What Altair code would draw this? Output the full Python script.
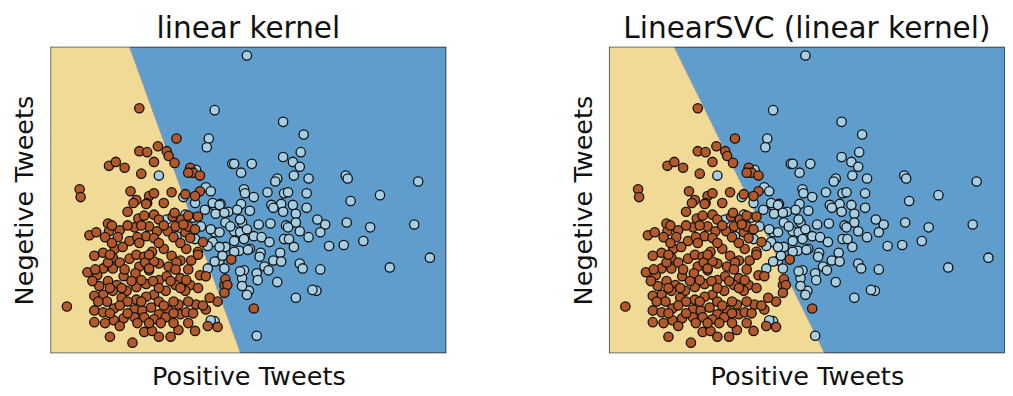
import altair as alt
import pandas as pd

# ---- data (x = positive tweets, y = negative tweets, arbitrary units) ----
blue_x = [200, 167, 237, 258, 161, 159, 255, 237, 185, 205, 194, 247, 254, 248, 263, 231, 229, 197, 198, 221,
          238, 242, 261, 158, 163, 207, 148, 301, 303, 375, 336, 306, 272, 280, 275, 302, 326, 371, 284, 299,
          319, 387, 275, 346, 271, 166, 173, 181, 194, 203, 225, 235, 247, 261, 250, 168, 178, 195, 212, 224,
          240, 250, 167, 187, 193, 207, 215, 223, 242, 254, 263, 238, 165, 178, 192, 203, 214, 234, 248, 172,
          167, 213, 227, 235, 254, 257, 218, 197, 195, 210, 211, 222, 231, 202, 250, 267, 210, 167, 160, 243,
          201, 237, 227, 110, 135, 147, 157, 165, 172, 177, 190, 193, 137, 145, 153, 163, 172, 183, 200, 118,
          128, 147, 160, 172, 187, 197, 175, 187, 177, 193, 195, 200, 163, 187]
blue_y = [304, 248, 236, 223, 219, 210, 205, 200, 193, 193, 184, 195, 190, 181, 178, 178, 175, 167, 163, 164,
          163, 164, 163, 169, 165, 159, 187, 181, 178, 175, 161, 155, 136, 131, 123, 133, 128, 131, 109, 110,
          114, 97, 85, 87, 63, 151, 152, 144, 152, 145, 151, 152, 151, 148, 142, 142, 133, 133, 131, 132,
          130, 133, 123, 124, 123, 119, 118, 113, 128, 124, 118, 116, 113, 108, 104, 106, 102, 102, 108, 94,
          93, 98, 94, 93, 91, 86, 88, 84, 76, 81, 74, 84, 72, 63, 56, 64, 17, 32, 86, 116,
          105, 144, 148, 181, 159, 153, 146, 153, 151, 143, 146, 136, 141, 138, 129, 126, 123, 129, 126, 136,
          119, 116, 109, 108, 114, 116, 99, 103, 86, 83, 68, 59, 33, 193]

brown_x = [90, 128, 90, 98, 109, 118, 120, 126, 105, 59, 66, 75, 92, 29, 30, 81, 100, 105, 123, 142,
           145, 140, 152, 147, 137, 152, 87, 98, 115, 78, 84, 97, 105, 58, 59, 39, 46, 70, 85, 89,
           100, 110, 124, 127, 119, 108, 97, 80, 65, 73, 53, 44, 63, 80, 87, 95, 103, 115, 123, 132,
           132, 120, 110, 100, 90, 86, 74, 63, 53, 37, 47, 49, 67, 77, 87, 97, 110, 118, 127, 117,
           105, 97, 87, 72, 63, 53, 44, 57, 64, 44, 53, 64, 44, 74, 85, 93, 102, 110, 120, 130,
           132, 85, 95, 105, 117, 130, 95, 103, 83, 16, 147, 170, 177, 184, 178, 180, 177, 170, 162, 207,
           148, 142, 152, 138, 137, 143, 155, 150, 158, 137, 138, 158, 150, 133, 140, 147, 126,
           62, 78, 92, 115, 135, 55, 68, 88, 105, 125, 142, 62, 90, 110, 132, 58, 70, 96, 105,
           128, 45, 75, 100, 127, 140, 42, 58, 82, 92, 104, 122, 138, 60, 72, 110, 132, 150, 48, 78,
           92, 110, 125, 140, 70, 115, 155, 60, 78, 125, 145, 55, 88, 100, 112, 125, 140, 70, 160, 60,
           110, 122, 60, 100, 150, 95, 140]
brown_y = [250, 219, 206, 205, 211, 206, 201, 194, 195, 191, 195, 189, 183, 167, 159, 165, 160, 163, 164, 189,
           184, 184, 165, 160, 162, 181, 156, 153, 153, 144, 153, 152, 141, 132, 124, 120, 123, 125, 128, 137,
           129, 136, 139, 129, 124, 124, 119, 114, 106, 108, 102, 99, 97, 96, 100, 98, 103, 106, 99, 94,
           76, 88, 91, 84, 88, 81, 78, 86, 86, 82, 79, 68, 69, 63, 67, 70, 74, 78, 69, 63,
           59, 57, 54, 56, 63, 59, 58, 52, 45, 43, 41, 33, 31, 35, 44, 43, 46, 39, 43, 49,
           39, 36, 36, 34, 36, 23, 21, 22, 10, 47, 22, 26, 69, 95, 75, 69, 61, 52, 56, 45,
           49, 69, 79, 106, 123, 94, 113, 103, 78, 63, 41, 44, 139, 136, 129, 126, 143,
           130, 130, 130, 130, 131, 118, 118, 118, 117, 118, 117, 112, 112, 112, 112, 92, 92, 92, 93,
           92, 85, 85, 86, 85, 85, 73, 73, 73, 74, 73, 73, 74, 66, 66, 66, 66, 66, 52, 52,
           52, 52, 52, 52, 48, 48, 48, 40, 40, 40, 40, 30, 30, 30, 30, 30, 30, 27, 27, 16,
           16, 16, 100, 100, 100, 140, 140]

x_range = [0, 403]
y_range = [0, 312]
titles = ["linear kernel", "LinearSVC (linear kernel)"]
boundary_top_x = [80, 66]      # where the decision line meets the top of each panel
boundary_bottom_x = [193, 219]  # where it meets the bottom

YELLOW = "#f1da95"
BLUE = "#5f9ecc"
BROWN = "#b3582a"
LIGHT = "#a6cee3"
FONT = "DejaVu Sans"

points = pd.DataFrame({
    "x": blue_x + brown_x,
    "y": blue_y + brown_y,
    "cls": ["1"] * len(blue_x) + ["0"] * len(brown_x),
})

W, H = 401, 310


def panel(title, top_x, bottom_x):
    xs = alt.Scale(domain=x_range, nice=False, zero=False)
    ys = alt.Scale(domain=y_range, nice=False, zero=False)
    xax = alt.Axis(title="Positive Tweets", labels=False, ticks=False, grid=False, domain=False,
                   titleFont=FONT, titleFontSize=26, titleFontWeight="normal", titleColor="#111",
                   titlePadding=12)
    yax = alt.Axis(title="Negetive Tweets", labels=False, ticks=False, grid=False, domain=False,
                   titleFont=FONT, titleFontSize=26, titleFontWeight="normal", titleColor="#111",
                   titlePadding=14)
    full = pd.DataFrame({"x0": [x_range[0]], "x1": [x_range[1]], "y0": [y_range[0]], "y1": [y_range[1]]})
    bg = alt.Chart(full).mark_rect(color=BLUE).encode(
        x=alt.X("x0:Q", scale=xs, axis=xax), x2="x1:Q",
        y=alt.Y("y0:Q", scale=ys, axis=yax), y2="y1:Q",
    )
    region = pd.DataFrame({"y": y_range, "x0": [x_range[0], x_range[0]], "x": [bottom_x, top_x]})
    yellow = alt.Chart(region).mark_area(orient="horizontal", color=YELLOW, opacity=1).encode(
        y=alt.Y("y:Q", scale=ys),
        x=alt.X("x0:Q", scale=xs),
        x2="x:Q",
    )
    edge = alt.Chart(region).mark_line(color="#d98a6a", strokeWidth=1, opacity=0.8,
                                       strokeDash=[2, 2]).encode(
        x=alt.X("x:Q", scale=xs), y=alt.Y("y:Q", scale=ys), order="y:Q"
    )
    dots = alt.Chart(points).mark_circle(size=90, stroke="#111", strokeWidth=1.3, opacity=1,
                                         clip=True).encode(
        x=alt.X("x:Q", scale=xs),
        y=alt.Y("y:Q", scale=ys),
        fill=alt.Fill("cls:N", scale=alt.Scale(domain=["0", "1"], range=[BROWN, LIGHT]), legend=None),
    )
    return alt.layer(bg, yellow, edge, dots).properties(
        width=W, height=H,
        title=alt.TitleParams(title, font=FONT, fontSize=30, fontWeight="normal", color="#111",
                              anchor="middle", offset=2),
    )


chart = alt.hconcat(
    panel(titles[0], boundary_top_x[0], boundary_bottom_x[0]),
    panel(titles[1], boundary_top_x[1], boundary_bottom_x[1]),
    spacing=125,
).properties(
    padding={"left": 3, "top": 2, "right": 0, "bottom": 0}
).configure_view(
    fill=BLUE, stroke="#222", strokeWidth=1.6
)

chart.save("out.html", embed_options={"renderer": "svg", "actions": False})
